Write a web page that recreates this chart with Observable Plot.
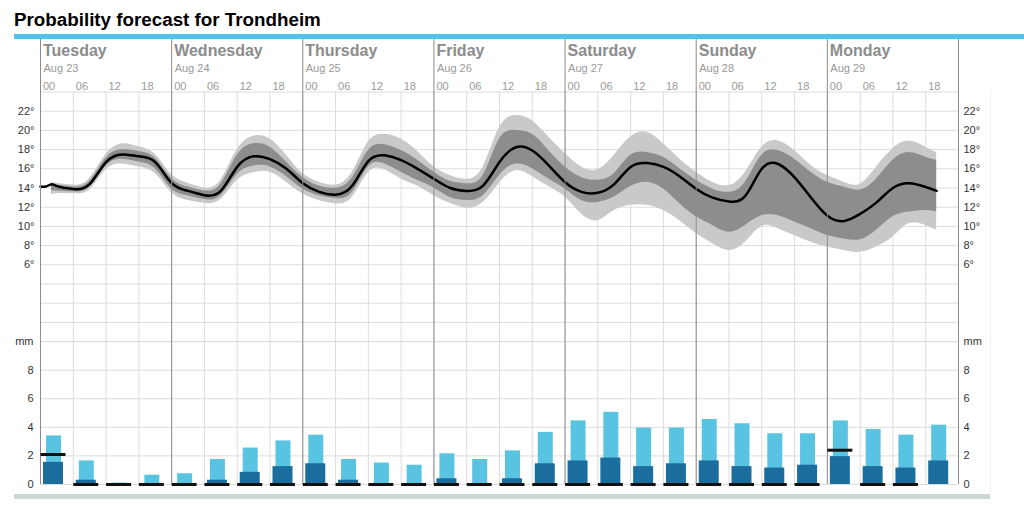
<!DOCTYPE html>
<html>
<head>
<meta charset="utf-8">
<script src="https://cdn.jsdelivr.net/npm/d3@7"></script>
<script src="https://cdn.jsdelivr.net/npm/@observablehq/plot@0.6"></script>
<style>
body{margin:0;background:#fff;font-family:"Liberation Sans",Arial,sans-serif;}
#wrap{position:relative;width:1024px;height:516px;overflow:hidden;background:#fff;}
#title{position:absolute;left:14px;top:10px;line-height:20px;font-weight:bold;font-size:18.8px;color:#000;white-space:nowrap;}
#topbar{position:absolute;left:14px;top:34px;width:1010px;height:5px;background:#4fc3ea;}
#foot{position:absolute;left:14px;top:494px;width:976px;height:5px;background:#cdd8d5;}
#edge{position:absolute;left:990px;top:90px;width:1px;height:404px;background:#f0f0f0;}
#wrap svg{position:absolute;left:0;}
</style>
</head>
<body>
<div id="wrap">
  <div id="title">Probability forecast for Trondheim</div>
  <div id="topbar"></div>
  <div id="edge"></div>
  <div id="foot"></div>
</div>
<script>
// ---- data ----
const days = ["Tuesday","Wednesday","Thursday","Friday","Saturday","Sunday","Monday"];
const dates = ["Aug 23","Aug 24","Aug 25","Aug 26","Aug 27","Aug 28","Aug 29"];
const hourLabels = ["00","06","12","18"];

// hours since Tuesday 00
const medianHours = [0,1,2,3,6,9,12,15,18,21,24,27,30,33,36,39,42,45,48,51,54,57,60,63,66,69,72,75,78,81,84,87,90,93,96,99,102,105,108,111,114,117,120,123,126,129,132,135,138,141,144,147,150,153,156,159,162,164];
const medianTemp = [14.15,14.15,14.4,14.2,13.9,14.4,16.7,17.5,17.3,16.7,14.5,13.7,13.25,13.7,16.2,17.3,17.0,16.0,14.5,13.6,13.3,14.2,16.8,17.4,16.9,16.0,14.95,14.0,13.7,14.25,16.7,18.25,17.9,16.35,14.6,13.6,13.5,14.4,16.2,16.6,16.2,15.2,13.9,13.0,12.6,13.2,16.0,16.5,15.1,13.0,11.1,10.55,11.3,12.5,14.0,14.5,14.1,13.7];

const bandHours = [2,3,6,9,12,15,18,21,24,27,30,33,36,39,42,45,48,51,54,57,60,63,66,69,72,75,78,81,84,87,90,93,96,99,102,105,108,111,114,117,120,123,126,129,132,135,138,141,144,147,150,153,156,159,162,164];
const lowOuter = [13.3,13.4,13.4,13.8,15.9,16.5,16.2,15.5,13.5,12.7,12.4,12.8,14.8,15.6,15.65,14.6,13.4,12.7,12.35,13.0,15.6,15.9,14.95,14.2,13.2,12.4,11.9,12.5,14.5,15.8,15.2,14.15,13.05,11.3,10.6,11.65,12.2,12.2,11.65,10.6,9.25,8.2,7.5,8.35,10.0,9.75,9.05,8.35,7.85,7.5,7.3,7.85,8.9,10.3,10.1,9.6];
const lowInner = [13.7,13.7,13.6,14.1,16.3,17.0,16.7,16.0,13.9,13.2,12.8,13.2,15.4,16.3,16.2,15.2,13.9,13.2,12.9,13.5,16.2,16.5,15.65,14.8,14.0,13.0,12.7,13.2,15.3,16.5,16.0,14.95,13.9,12.7,12.5,13.05,14.15,14.6,13.9,12.35,11.0,10.1,9.4,10.1,11.1,11.1,10.45,9.75,9.05,8.7,8.6,9.6,11.0,11.5,11.65,11.5];
const highInner = [14.45,14.3,14.1,14.7,17.1,18.0,17.8,17.1,15.0,14.1,13.7,14.4,17.4,18.6,18.25,16.7,15.1,14.2,14.0,15.0,17.9,18.5,17.9,16.9,15.65,14.7,14.45,15.3,19.1,20.0,19.6,17.9,16.2,15.1,14.8,15.5,17.4,17.7,17.2,16.0,14.8,13.9,13.55,14.6,17.4,17.9,17.0,15.65,14.6,14.1,13.8,14.95,16.9,17.7,17.2,16.9];
const highOuter = [14.5,14.5,14.3,15.0,17.5,18.6,18.3,17.5,15.4,14.5,14.0,14.8,18.0,19.4,19.1,17.4,15.5,14.6,14.3,15.6,18.8,19.6,19.1,17.8,16.2,15.3,14.9,16.2,20.3,21.55,21.0,19.3,17.6,16.2,15.9,17.4,19.3,19.8,18.6,17.0,15.65,14.6,14.25,15.65,18.25,18.9,17.9,16.35,15.3,14.6,14.4,16.2,18.1,18.9,18.25,17.7];

// precipitation per 6-hour period (mm), Tue 00 .. Mon 18
const precipHigh = [3.4,1.65,0.1,0.65, 0.75,1.75,2.55,3.05, 3.45,1.75,1.5,1.35, 2.15,1.75,2.35,3.65, 4.45,5.05,3.95,3.95, 4.55,4.25,3.55,3.55, 4.45,3.85,3.45,4.15];
const precipMedian = [1.55,0.3,0,0, 0,0.3,0.85,1.25, 1.45,0.3,0,0, 0.4,0,0.4,1.45, 1.65,1.85,1.25,1.45, 1.65,1.25,1.15,1.35, 1.95,1.25,1.15,1.65];
const precipMarker = [2.1,0,0,0, 0,0,0,0, 0,0,0,0, 0,0,0,0, 0,0,0,0, 0,0,0,0, 2.4,0,0,null];

const tempTicks = [6,8,10,12,14,16,18,20,22];
const tempGrid = [-2,0,2,4,6,8,10,12,14,16,18,20,22,24];
const precipTicks = [0,2,4,6,8,10];

// ---- derived tables ----
const med = medianHours.map((h,i)=>({h, t: medianTemp[i]}));
const band = bandHours.map((h,i)=>({h, lo: lowOuter[i], li: lowInner[i], hi: highInner[i], ho: highOuter[i]}));
const periods = precipHigh.map((v,i)=>({h: i*6, hi: v, med: precipMedian[i], mk: precipMarker[i], lab: hourLabels[i%4]}));
const dayHours = days.map((d,i)=>i*24).concat([168]);
const sixHours = d3.range(0,169,6);

const font = "Liberation Sans, Arial, sans-serif";
const W = 1024, ML = 40, MR = 66;
const curve = "natural";

const temp = Plot.plot({
  width: W, height: 345,
  marginLeft: ML, marginRight: MR, marginTop: 91.5, marginBottom: 3.9,
  x: {domain: [0,168], axis: null},
  y: {domain: [-2,24], axis: null},
  style: {fontFamily: font, background: "none", overflow: "visible", color: "#333", fontSize: "11px"},
  marks: [
    Plot.ruleY(tempGrid, {stroke: "#dcdcdc"}),
    Plot.ruleX(sixHours, {stroke: "#dcdcdc"}),
    Plot.areaY(band, {x: "h", y1: "lo", y2: "ho", fill: "#c9c9c9", curve}),
    Plot.areaY(band, {x: "h", y1: "li", y2: "hi", fill: "#8d8d8d", curve}),
    Plot.lineY(med, {x: "h", y: "t", stroke: "#000", strokeWidth: 2.5, curve}),
    Plot.ruleX(dayHours, {stroke: "#8c8c8c", insetTop: -53.5}),
    Plot.text(days, {x: (d,i)=>i*24, text: d=>d, frameAnchor: "top", lineAnchor: "bottom", textAnchor: "start", dx: 2.5, dy: -36.5, fontWeight: "bold", fontSize: 16, fill: "#8c8c8c"}),
    Plot.text(dates, {x: (d,i)=>i*24, text: d=>d, frameAnchor: "top", lineAnchor: "bottom", textAnchor: "start", dx: 3, dy: -20.5, fontSize: 11, fill: "#999"}),
    Plot.text(periods, {x: "h", text: "lab", frameAnchor: "top", lineAnchor: "bottom", textAnchor: "start", dx: 2.5, dy: -2.5, fontSize: 11, fill: "#999"}),
    Plot.axisY(tempTicks, {anchor: "left", tickFormat: d=>d+"°", tickSize: 0, tickPadding: 6, label: null, fontSize: 11}),
    Plot.axisY(tempTicks, {anchor: "right", tickFormat: d=>d+"°", tickSize: 0, tickPadding: 5, label: null, fontSize: 11})
  ]
});
temp.style.top = "0px";

const rain = Plot.plot({
  width: W, height: 200,
  marginLeft: ML, marginRight: MR, marginTop: 41.1, marginBottom: 16,
  x: {domain: [0,168], axis: null},
  y: {domain: [0,10], axis: null},
  style: {fontFamily: font, background: "none", overflow: "visible", color: "#333", fontSize: "11px"},
  marks: [
    Plot.ruleY(precipTicks, {stroke: "#dcdcdc"}),
    Plot.ruleX(sixHours, {stroke: "#dcdcdc"}),
    Plot.ruleX(dayHours, {stroke: "#8c8c8c"}),
    Plot.rect(periods, {x1: "h", x2: d=>d.h+6, y1: 0, y2: "hi", fill: "#58c4e2", insetLeft: 6, insetRight: 11.8}),
    Plot.rect(periods, {x1: "h", x2: d=>d.h+6, y1: 0, y2: "med", fill: "#1a6d9c", insetLeft: 3, insetRight: 9.8}),
    Plot.ruleY(periods.filter(d=>d.mk!=null), {y: "mk", x1: "h", x2: d=>d.h+6, insetLeft: 0.5, insetRight: 7.3, stroke: "#111", strokeWidth: 3}),
    Plot.axisY(precipTicks, {anchor: "left", tickFormat: d=>d===10?"mm":d, tickSize: 0, tickPadding: 7, label: null, fontSize: 11}),
    Plot.axisY(precipTicks, {anchor: "right", tickFormat: d=>d===10?"mm":d, tickSize: 0, tickPadding: 5, label: null, fontSize: 11})
  ]
});
rain.style.top = "300px";

const wrap = document.getElementById("wrap");
wrap.insertBefore(temp, document.getElementById("title"));
wrap.insertBefore(rain, document.getElementById("title"));
</script>
</body>
</html>
